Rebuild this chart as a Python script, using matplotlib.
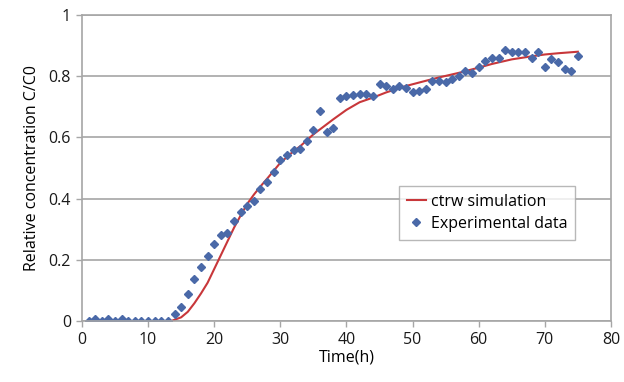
import matplotlib
matplotlib.use("Agg")
import matplotlib.pyplot as plt

# experimental data, one reading per hour
exp_time = list(range(1, 76))
exp_conc = [
    0.0, 0.006, 0.0, 0.006, 0.0, 0.007, 0.0, 0.0, 0.0, 0.0,
    0.0, 0.0, 0.0, 0.023, 0.047, 0.089, 0.137, 0.176, 0.213, 0.251,
    0.281, 0.288, 0.326, 0.357, 0.375, 0.393, 0.432, 0.455, 0.486, 0.525,
    0.544, 0.558, 0.561, 0.588, 0.624, 0.687, 0.617, 0.632, 0.730, 0.735,
    0.738, 0.741, 0.742, 0.735, 0.775, 0.767, 0.759, 0.767, 0.760, 0.748,
    0.753, 0.758, 0.783, 0.785, 0.781, 0.791, 0.802, 0.816, 0.810, 0.830,
    0.849, 0.861, 0.861, 0.887, 0.880, 0.880, 0.880, 0.860, 0.880, 0.829,
    0.855, 0.847, 0.824, 0.816, 0.867,
]

# ctrw simulation curve
sim_time = [13.5, 15, 16, 17, 18, 19, 20, 21, 22, 23, 24, 25, 26, 27, 28, 30,
            32, 33, 35, 38, 40, 42, 44, 46, 49, 52, 54, 57, 60, 62, 65, 68,
            70, 72, 75]
sim_conc = [0.0, 0.012, 0.03, 0.058, 0.09, 0.125, 0.17, 0.215, 0.26, 0.305,
            0.345, 0.383, 0.413, 0.44, 0.465, 0.517, 0.555, 0.571, 0.61,
            0.659, 0.69, 0.715, 0.73, 0.747, 0.768, 0.785, 0.796, 0.811,
            0.828, 0.84, 0.855, 0.865, 0.871, 0.875, 0.88]

x_ticks = [0, 10, 20, 30, 40, 50, 60, 70, 80]
y_ticks = [0, 0.2, 0.4, 0.6, 0.8, 1.0]
y_tick_labels = ["0", "0.2", "0.4", "0.6", "0.8", "1"]

plt.rcParams["font.family"] = ["Open Sans", "DejaVu Sans"]

fig = plt.figure(figsize=(6.24, 3.82), dpi=100)
ax = fig.add_axes([0.1314, 0.1597, 0.8476, 0.801])

grid_color = "#a6a6a6"
ax.set_xlim(0, 80)
ax.set_ylim(0, 1)
ax.set_xticks(x_ticks)
ax.set_yticks(y_ticks)
ax.set_yticklabels(y_tick_labels)
ax.yaxis.grid(True, color=grid_color, linewidth=1.2)
ax.set_axisbelow(True)
for spine in ax.spines.values():
    spine.set_color(grid_color)
    spine.set_linewidth(1.2)
ax.tick_params(axis="both", direction="out", length=4, width=1, color=grid_color,
               labelsize=11.5, labelcolor="#1a1a1a", pad=4)

ax.plot(sim_time, sim_conc, color="#c8373a", linewidth=1.5, label="ctrw simulation")
ax.plot(exp_time, exp_conc, linestyle="none", marker="D", markersize=4.5,
        color="#4a69a8", label="Experimental data")

ax.set_xlabel("Time(h)", fontsize=11.5, labelpad=1)
ax.set_ylabel("Relative concentration C/C0", fontsize=11.5, labelpad=6)

leg = ax.legend(loc="upper left", bbox_to_anchor=(0.599, 0.441), borderaxespad=0,
                frameon=True, fancybox=False, fontsize=11.5, handlelength=1.2,
                handletextpad=0.3, borderpad=0.5, labelspacing=0.35)
leg.get_frame().set_edgecolor(grid_color)
leg.get_frame().set_linewidth(1.0)

fig.savefig("out.png", dpi=100)
